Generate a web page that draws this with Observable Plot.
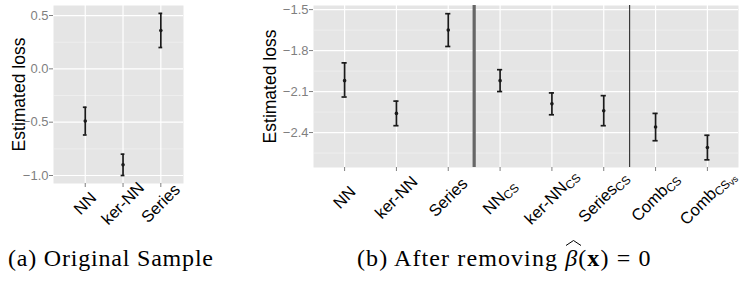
<!DOCTYPE html>
<html><head><meta charset="utf-8">
<script src="https://cdn.jsdelivr.net/npm/d3@7"></script>
<script src="https://cdn.jsdelivr.net/npm/@observablehq/plot@0.6"></script>
<style>
html,body{margin:0;padding:0;background:#fff;}
#wrap{position:relative;width:741px;height:281px;overflow:hidden;font-family:"Liberation Sans",Arial,sans-serif;}
.panel{position:absolute;top:0;}
.cap{position:absolute;font-family:"Liberation Serif","Times New Roman",serif;font-size:24px;letter-spacing:0.8px;color:#000;white-space:nowrap;line-height:1;}
.hat{position:relative;display:inline-block;}
.hat svg{position:absolute;left:0px;top:-6px;overflow:visible;}
svg g[aria-label="y-axis label"] text{font-size:17.5px;fill:#000;}
</style></head><body>
<div id="wrap">
<div id="pa" class="panel" style="left:0"></div>
<div id="pb" class="panel" style="left:250px"></div>
<div class="cap" style="left:8px;top:246px">(a) Original Sample</div>
<div class="cap" style="left:357px;top:246px;letter-spacing:1.1px">(b) After removing <span class="hat"><i>β</i><svg width="16" height="6"><polyline points="1,5.5 8.5,0.5 16,5.5" fill="none" stroke="#000" stroke-width="1"/></svg></span>(<b>x</b>) = 0</div>
</div>
<script>
// Panel (a): original sample
const catsA = ["NN", "ker-NN", "Series"];
const meanA = [-0.49, -0.90, 0.36];
const lowA  = [-0.62, -1.00, 0.20];
const highA = [-0.36, -0.80, 0.52];
const yTicksA = [-1.0, -0.5, 0.0, 0.5];
const yMinorA = [-0.75, -0.25, 0.25];

// Panel (b): after removing beta(x) = 0
const catsB = ["NN", "ker-NN", "Series", "NN_CS", "ker-NN_CS", "Series_CS", "Comb_CS", "Comb_CS_vs"];
const meanB = [-2.02, -2.26, -1.65, -2.02, -2.19, -2.24, -2.36, -2.51];
const lowB  = [-2.14, -2.35, -1.77, -2.10, -2.27, -2.35, -2.46, -2.60];
const highB = [-1.89, -2.17, -1.53, -1.94, -2.11, -2.13, -2.26, -2.42];
const yTicksB = [-2.4, -2.1, -1.8, -1.5];
const yMinorB = [-2.55, -2.25, -1.95, -1.65];
// separators are drawn after these categories
const sepThickAfter = ["Series"];
const sepThinAfter = ["Series_CS"];

const fmt = d3.format(".1f");
const FONT = "'Liberation Sans', Arial, sans-serif";

function panel(o) {
  const {cats, mean, low, high, yTicks, yMinor, yDomain} = o;
  const data = cats.map((c, i) => ({pos: i + 1, mean: mean[i], low: low[i], high: high[i]}));
  const pos = cats.map((c, i) => i + 1);
  const sepPos = names => names.map(n => cats.indexOf(n) + 1.5);
  const marks = [
    Plot.frame({fill: "#e5e5e5", stroke: null}),
    Plot.gridY(yMinor, {stroke: "#f4f4f4", strokeOpacity: 1, strokeWidth: 0.6}),
    Plot.gridY(yTicks, {stroke: "#ffffff", strokeOpacity: 1, strokeWidth: 1.2}),
    Plot.gridX(pos, {stroke: "#ffffff", strokeOpacity: 1, strokeWidth: 1.2})
  ];
  if (o.thick) marks.push(Plot.ruleX(sepPos(o.thick), {stroke: "#666666", strokeWidth: 3.2}));
  if (o.thin) marks.push(Plot.ruleX(sepPos(o.thin), {stroke: "#1a1a1a", strokeWidth: 1}));
  marks.push(
    Plot.ruleX(data, {x: "pos", y1: "low", y2: "high", stroke: "#1a1a1a", strokeWidth: 1.7}),
    Plot.ruleY(data, {y: "low", x1: d => d.pos - 0.05, x2: d => d.pos + 0.05, stroke: "#1a1a1a", strokeWidth: 1.7}),
    Plot.ruleY(data, {y: "high", x1: d => d.pos - 0.05, x2: d => d.pos + 0.05, stroke: "#1a1a1a", strokeWidth: 1.7}),
    Plot.dot(data, {x: "pos", y: "mean", r: 1.8, fill: "#1a1a1a", stroke: null}),
    Plot.axisY(yTicks, {tickSize: 4, tickPadding: 1, stroke: "#7f7f7f", fill: "#7f7f7f", fontSize: 13,
      tickFormat: fmt, label: "Estimated loss", labelAnchor: "center", labelArrow: "none", labelOffset: o.labelOffset}),
    Plot.axisX(pos, {tickSize: 4, stroke: "#7f7f7f", tickFormat: () => "", label: null}),
    Plot.text(pos, {x: d => d, text: p => cats[p - 1], frameAnchor: "bottom", dy: o.labelDy, rotate: -45,
      textAnchor: "middle", lineAnchor: "middle", fontSize: 16.5, fill: "#000"})
  );
  const svg = Plot.plot({
    width: o.width, height: o.height,
    marginLeft: o.marginLeft, marginRight: o.marginRight, marginTop: o.marginTop, marginBottom: o.marginBottom,
    style: {fontFamily: FONT, background: "transparent", overflow: "visible"},
    x: {type: "linear", domain: o.xDomain},
    y: {domain: yDomain},
    marks
  });
  // subscripts for category labels like "NN_CS" or "Comb_CS_vs"
  d3.select(svg).selectAll('g[aria-label="text"] text').each(function () {
    const t = this.textContent;
    if (!t.includes("_")) return;
    const parts = t.split("_");
    const sel = d3.select(this);
    sel.text(null);
    sel.append("tspan").text(parts[0]);
    if (parts[1]) sel.append("tspan").attr("font-size", "72%").attr("dy", "0.2em").text(parts[1]);
    if (parts[2]) sel.append("tspan").attr("font-size", "56%").attr("dy", "0.2em").text(parts[2]);
  });
  return svg;
}

document.getElementById("pa").appendChild(panel({
  cats: catsA, mean: meanA, low: lowA, high: highA, yTicks: yTicksA, yMinor: yMinorA,
  yDomain: [-1.075, 0.594], xDomain: [0.16, catsA.length + 0.6], labelDy: 20,
  width: 200, height: 230, marginLeft: 53, marginRight: 17, marginTop: 5, marginBottom: 47, labelOffset: 41
}));
document.getElementById("pb").appendChild(panel({
  cats: catsB, mean: meanB, low: lowB, high: highB, yTicks: yTicksB, yMinor: yMinorB,
  yDomain: [-2.656, -1.47], xDomain: [0.4, catsB.length + 0.6], labelDy: 30,
  thick: sepThickAfter, thin: sepThinAfter,
  width: 491, height: 230, marginLeft: 63, marginRight: 3, marginTop: 5, marginBottom: 63, labelOffset: 50
}));
</script>
</body></html>
